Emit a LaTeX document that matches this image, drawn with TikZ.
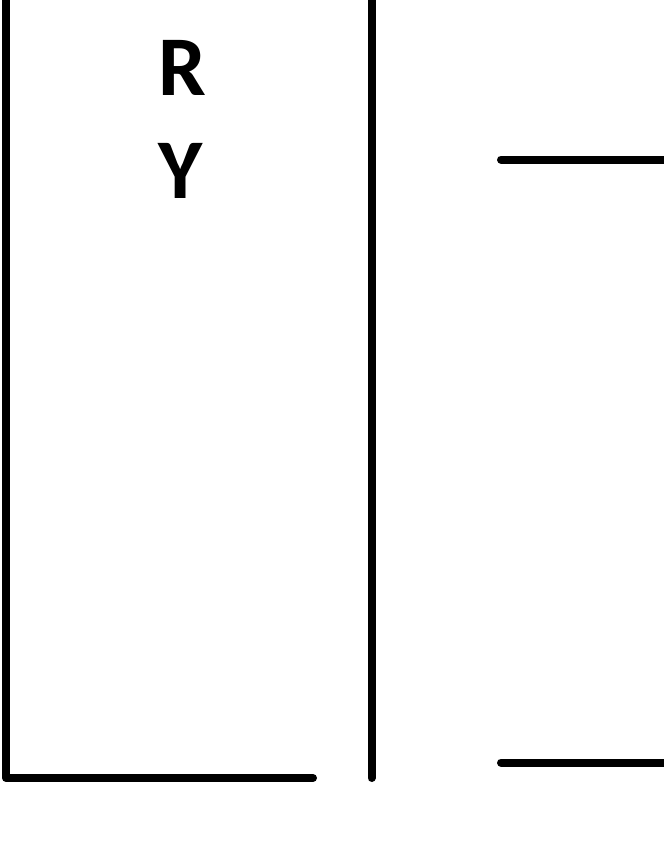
\documentclass[tikz,border=0pt]{standalone}
\usepackage{fontspec}
\setmainfont{Carlito}
\usetikzlibrary{positioning}

\begin{document}
\begin{tikzpicture}[x=1pt, y=-1pt,
  wall/.style={line width=8pt, black, line cap=round, line join=round},
  letter/.style={anchor=base, inner sep=0pt, font=\fontsize{85}{85}\selectfont\bfseries}]
  \useasboundingbox (0,0) rectangle (664,860);

  % left box
  \draw[wall] (6,-10) -- (6,778) -- (313,778);
  \node[letter] (R) at (182,95) {R};
  \node[letter] (Y) at (181,198) {Y};

  % divider
  \draw[wall] (371.5,-10) -- (371.5,778);

  % right side
  \draw[wall] (501,159.5) -- (680,159.5);
  \draw[wall] (501,762.5) -- (680,762.5);
\end{tikzpicture}
\end{document}
